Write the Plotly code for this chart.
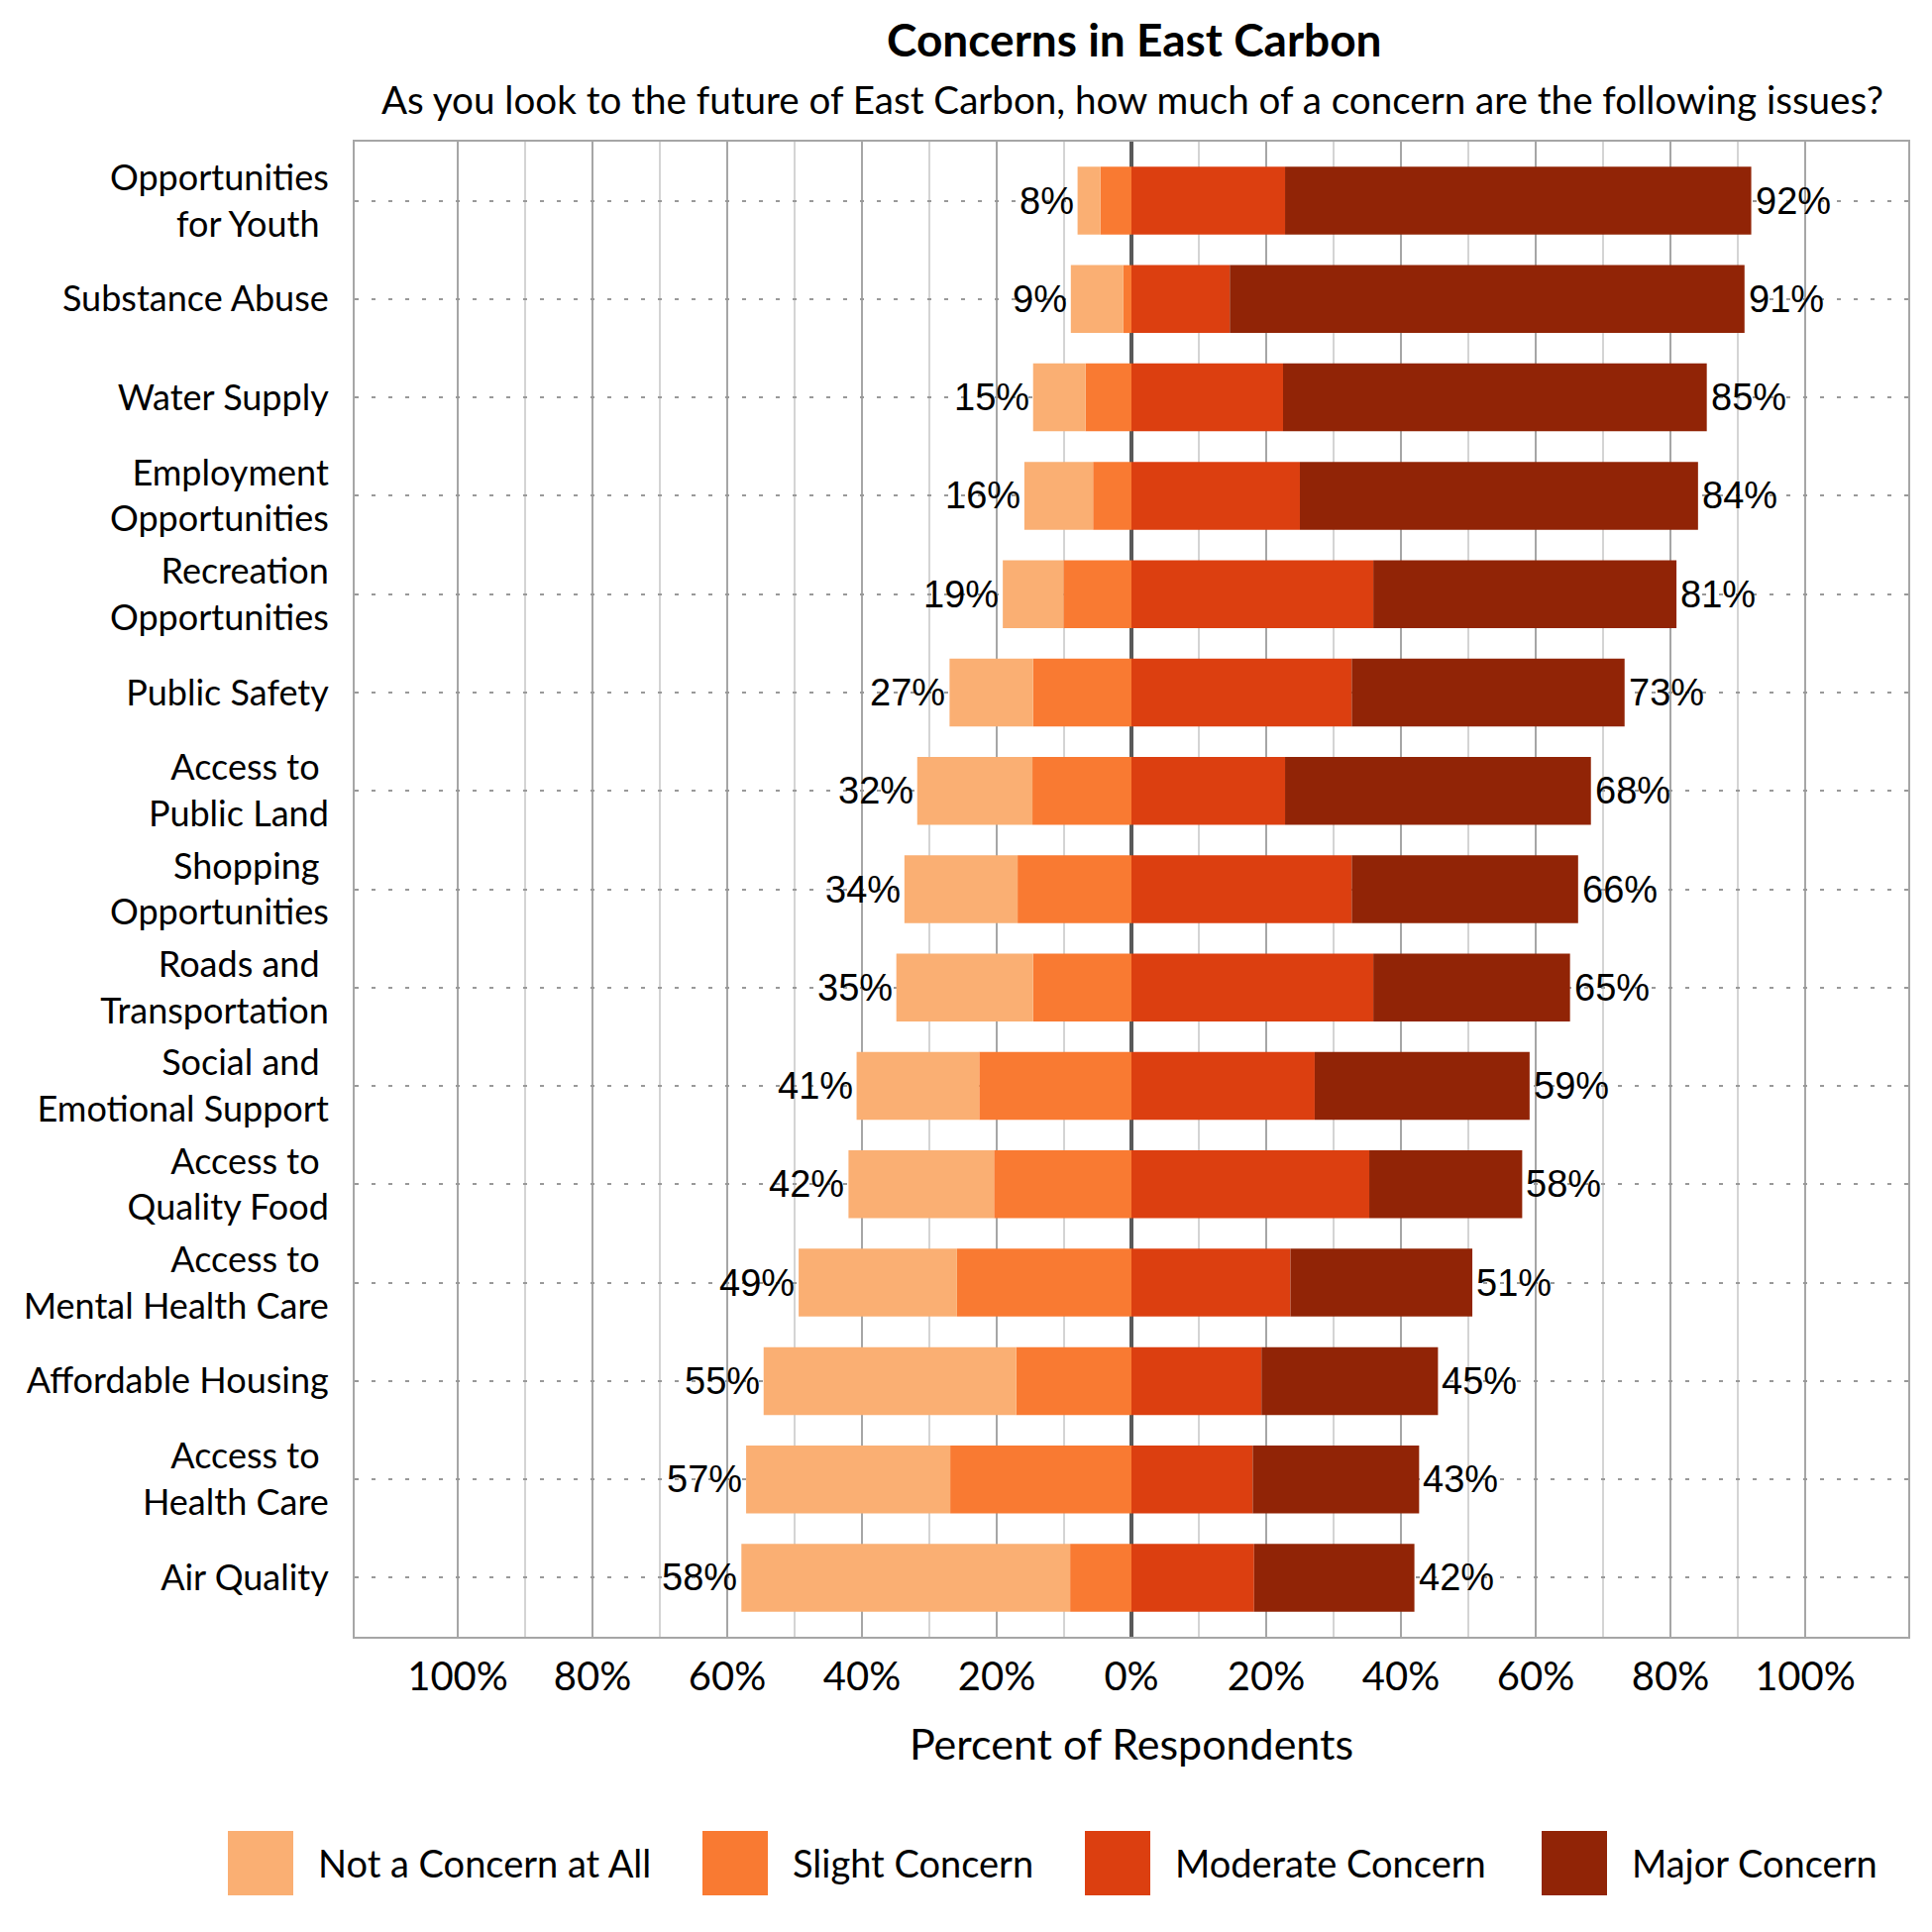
import plotly.graph_objects as go

categories = [
    "Opportunities<br>for Youth ",
    "Substance Abuse",
    "Water Supply",
    "Employment<br>Opportunities",
    "Recreation<br>Opportunities",
    "Public Safety",
    "Access to <br>Public Land",
    "Shopping <br>Opportunities",
    "Roads and <br>Transportation",
    "Social and <br>Emotional Support",
    "Access to <br>Quality Food",
    "Access to <br>Mental Health Care",
    "Affordable Housing",
    "Access to <br>Health Care",
    "Air Quality",
]

not_at_all = [3.4, 7.8, 7.8, 10.2, 9.0, 12.4, 17.1, 16.8, 20.3, 18.2, 21.6, 23.5, 37.5, 30.3, 48.8]
slight = [4.6, 1.2, 6.8, 5.7, 10.1, 14.6, 14.7, 16.9, 14.6, 22.6, 20.4, 25.9, 17.1, 26.9, 9.1]
moderate = [22.8, 14.6, 22.5, 25.0, 35.9, 32.7, 22.8, 32.7, 35.9, 27.2, 35.3, 23.6, 19.3, 18.0, 18.2]
major = [69.2, 76.4, 62.9, 59.1, 45.0, 40.5, 45.4, 33.6, 29.2, 31.9, 22.7, 27.0, 26.2, 24.7, 23.8]

left_labels = ["8%", "9%", "15%", "16%", "19%", "27%", "32%", "34%", "35%", "41%", "42%", "49%", "55%", "57%", "58%"]
right_labels = ["92%", "91%", "85%", "84%", "81%", "73%", "68%", "66%", "65%", "59%", "58%", "51%", "45%", "43%", "42%"]

series_names = ["Not a Concern at All", "Slight Concern", "Moderate Concern", "Major Concern"]
colors = ["#FAAF73", "#F97A32", "#DC3F10", "#912406"]

tick_vals = [-100, -80, -60, -40, -20, 0, 20, 40, 60, 80, 100]
tick_text = ["100%", "80%", "60%", "40%", "20%", "0%", "20%", "40%", "60%", "80%", "100%"]
minor_vals = [-90, -70, -50, -30, -10, 10, 30, 50, 70, 90]

font_main = "Lato"
font_num = "Liberation Sans"

fig = go.Figure()

# negative side: slight next to zero, then not at all
fig.add_trace(go.Bar(y=categories, x=[-v for v in slight], name=series_names[1],
                     orientation="h", marker=dict(color=colors[1], line=dict(width=0))))
fig.add_trace(go.Bar(y=categories, x=[-v for v in not_at_all], name=series_names[0],
                     orientation="h", marker=dict(color=colors[0], line=dict(width=0))))
fig.add_trace(go.Bar(y=categories, x=moderate, name=series_names[2],
                     orientation="h", marker=dict(color=colors[2], line=dict(width=0))))
fig.add_trace(go.Bar(y=categories, x=major, name=series_names[3],
                     orientation="h", marker=dict(color=colors[3], line=dict(width=0))))

annotations = []
for i, cat in enumerate(categories):
    left_total = not_at_all[i] + slight[i]
    right_total = moderate[i] + major[i]
    annotations.append(dict(x=-left_total, y=cat, xref="x", yref="y", text=left_labels[i],
                            showarrow=False, xanchor="right", xshift=-2,
                            font=dict(family=font_num, size=38, color="black")))
    annotations.append(dict(x=right_total, y=cat, xref="x", yref="y", text=right_labels[i],
                            showarrow=False, xanchor="left", xshift=2,
                            font=dict(family=font_num, size=38, color="black")))

# page pixel layout (the page is drawn with an 8px body offset)
W, H = 1950, 1950
OFF = 8
L, R, T, B = 350, 32, 135, 306
pw, ph = W - L - R, H - T - B


def px_x(px):
    return (px - OFF - L) / pw


def px_y(py):
    return (H - B - (py - OFF)) / ph


# title and subtitle
annotations.append(dict(x=px_x(1145), y=px_y(40), xref="paper", yref="paper",
                        text="<b>Concerns in East Carbon</b>", showarrow=False,
                        xanchor="center", yanchor="middle",
                        font=dict(family=font_main, size=46, color="black")))
annotations.append(dict(x=px_x(1143), y=px_y(100), xref="paper", yref="paper",
                        text="As you look to the future of East Carbon, how much of a concern are the following issues?",
                        showarrow=False, xanchor="center", yanchor="middle",
                        font=dict(family=font_main, size=38.6, color="black")))

# legend drawn by hand to get the large square swatches
swatch_x = [230, 709, 1095, 1556]
shapes = []
for i, name in enumerate(series_names):
    shapes.append(dict(type="rect", xref="paper", yref="paper",
                       x0=px_x(swatch_x[i]), x1=px_x(swatch_x[i] + 66),
                       y0=px_y(1913), y1=px_y(1848),
                       fillcolor=colors[i], line=dict(width=0)))
    annotations.append(dict(x=px_x(swatch_x[i] + 89), y=px_y(1880), xref="paper", yref="paper",
                            text=name, showarrow=False, xanchor="left", yanchor="middle",
                            font=dict(family=font_main, size=38, color="black")))

fig.update_layout(
    width=W, height=H,
    barmode="relative",
    bargap=0.31,
    showlegend=False,
    plot_bgcolor="white",
    paper_bgcolor="white",
    margin=dict(l=L, r=R, t=T, b=B, autoexpand=False),
    annotations=annotations,
    shapes=shapes,
    xaxis=dict(
        range=[-115.3, 115.3],
        tickvals=tick_vals, ticktext=tick_text,
        tickfont=dict(family=font_main, size=40, color="black"),
        showgrid=True, gridcolor="#A6A6A6", gridwidth=2,
        minor=dict(tickvals=minor_vals, showgrid=True, gridcolor="#D4D4D4", gridwidth=1.5),
        zeroline=True, zerolinecolor="#595959", zerolinewidth=4,
        showline=True, linecolor="#A6A6A6", linewidth=2, mirror=True,
        ticks="", ticklabelstandoff=4,
        title=dict(text="Percent of Respondents", standoff=32,
                   font=dict(family=font_main, size=43, color="black")),
    ),
    yaxis=dict(
        type="category",
        categoryorder="array", categoryarray=categories,
        range=[14.6, -0.6],
        tickfont=dict(family=font_main, size=36, color="black"),
        showgrid=True, gridcolor="#999999", gridwidth=2, griddash="4px,13px",
        showline=True, linecolor="#A6A6A6", linewidth=2, mirror=True,
        ticks="", ticklabelstandoff=17,
    ),
)

fig.write_html("out.html")
